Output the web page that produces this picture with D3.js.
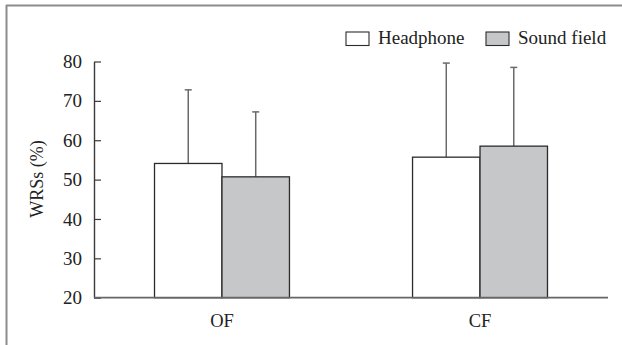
<!DOCTYPE html>
<html>
<head>
<meta charset="utf-8">
<script src="https://cdn.jsdelivr.net/npm/d3@7/dist/d3.min.js"></script>
<style>
  html, body { margin: 0; padding: 0; background: #fff; }
  svg { display: block; }
</style>
</head>
<body>
<svg id="chart" width="622" height="345"></svg>
<script>
// Word recognition scores by fitting condition and test presentation
const categories = ["OF", "CF"];
const seriesNames = ["Headphone", "Sound field"];
const headphoneMeans = [54.1, 55.7];
const headphoneSD = [18.7, 23.9];
const soundFieldMeans = [50.7, 58.5];
const soundFieldSD = [16.5, 20.0];
const yTicks = [20, 30, 40, 50, 60, 70, 80];
const yLabel = "WRSs (%)";

const fills = ["#ffffff", "#c6c7c9"];
const serif = "Times New Roman, Liberation Serif, Tinos, serif";

const svg = d3.select("#chart");

// Frame lines along top and left edge
svg.append("line").attr("x1", 6).attr("x2", 622).attr("y1", 5.5).attr("y2", 5.5)
  .attr("stroke", "#8c8c8c").attr("stroke-width", 2);
svg.append("line").attr("x1", 6.5).attr("x2", 6.5).attr("y1", 5).attr("y2", 345)
  .attr("stroke", "#8c8c8c").attr("stroke-width", 2);

const plot = { left: 94, right: 608, top: 61.5, bottom: 297.7 };

const x0 = d3.scaleBand()
  .domain(categories)
  .range([plot.left, plot.right])
  .paddingInner(0.477)
  .paddingOuter(0.2345);

const x1 = d3.scaleBand()
  .domain(seriesNames)
  .range([0, x0.bandwidth()]);

const y = d3.scaleLinear().domain([20, 80]).range([plot.bottom, plot.top]);

const data = categories.map((c, i) => ({
  cat: c,
  values: [
    { series: seriesNames[0], mean: headphoneMeans[i], sd: headphoneSD[i], fill: fills[0] },
    { series: seriesNames[1], mean: soundFieldMeans[i], sd: soundFieldSD[i], fill: fills[1] }
  ]
}));

const groups = svg.append("g").selectAll("g")
  .data(data).join("g")
  .attr("transform", d => `translate(${x0(d.cat)},0)`);

// Error bars (upper side only), drawn first so bars sit on top
groups.selectAll("line.err")
  .data(d => d.values).join("line")
  .attr("class", "err")
  .attr("x1", d => x1(d.series) + x1.bandwidth() / 2)
  .attr("x2", d => x1(d.series) + x1.bandwidth() / 2)
  .attr("y1", d => y(d.mean))
  .attr("y2", d => y(d.mean + d.sd))
  .attr("stroke", "#6a6a6a").attr("stroke-width", 1.5);

groups.selectAll("line.cap")
  .data(d => d.values).join("line")
  .attr("class", "cap")
  .attr("x1", d => x1(d.series) + x1.bandwidth() / 2 - 3.5)
  .attr("x2", d => x1(d.series) + x1.bandwidth() / 2 + 3.5)
  .attr("y1", d => y(d.mean + d.sd))
  .attr("y2", d => y(d.mean + d.sd))
  .attr("stroke", "#6a6a6a").attr("stroke-width", 1.5);

groups.selectAll("rect")
  .data(d => d.values).join("rect")
  .attr("x", d => x1(d.series))
  .attr("y", d => y(d.mean))
  .attr("width", x1.bandwidth())
  .attr("height", d => y(20) - y(d.mean))
  .attr("fill", d => d.fill)
  .attr("stroke", "#2b2b2b").attr("stroke-width", 1.3);

// Y axis with inward ticks
const yAxis = svg.append("g")
  .attr("transform", `translate(${plot.left},0)`)
  .call(d3.axisLeft(y).tickValues(yTicks).tickSizeInner(-7).tickSizeOuter(0).tickPadding(12));
yAxis.attr("font-family", serif);
yAxis.select(".domain").attr("stroke", "#3a3a3a").attr("stroke-width", 1.4);
yAxis.selectAll(".tick line").attr("stroke", "#3a3a3a").attr("stroke-width", 1.2);
yAxis.selectAll(".tick text").attr("font-size", 19).attr("fill", "#222")
  .style("font-family", serif);

// Baseline
svg.append("line")
  .attr("x1", plot.left).attr("x2", plot.right)
  .attr("y1", y(20)).attr("y2", y(20))
  .attr("stroke", "#666").attr("stroke-width", 1.8);

// Category labels
svg.append("g").selectAll("text")
  .data(categories).join("text")
  .attr("x", d => x0(d) + x0.bandwidth() / 2)
  .attr("y", 327)
  .attr("text-anchor", "middle")
  .style("font-family", serif)
  .attr("font-size", 18.5)
  .attr("fill", "#222")
  .text(d => d);

// Y axis title
svg.append("text")
  .attr("transform", `translate(43,179) rotate(-90)`)
  .attr("text-anchor", "middle")
  .style("font-family", serif)
  .attr("font-size", 18)
  .attr("fill", "#222")
  .text(yLabel);

// Legend
const legendX = [346, 486];
const legend = svg.append("g").selectAll("g")
  .data(seriesNames).join("g")
  .attr("transform", (d, i) => `translate(${legendX[i]},32)`);
legend.append("rect")
  .attr("width", 23).attr("height", 13.5)
  .attr("fill", (d, i) => fills[i])
  .attr("stroke", "#2b2b2b").attr("stroke-width", 1.1);
legend.append("text")
  .attr("x", 32).attr("y", 12)
  .style("font-family", serif)
  .attr("font-size", 19)
  .attr("fill", "#222")
  .text(d => d);
</script>
</body>
</html>
